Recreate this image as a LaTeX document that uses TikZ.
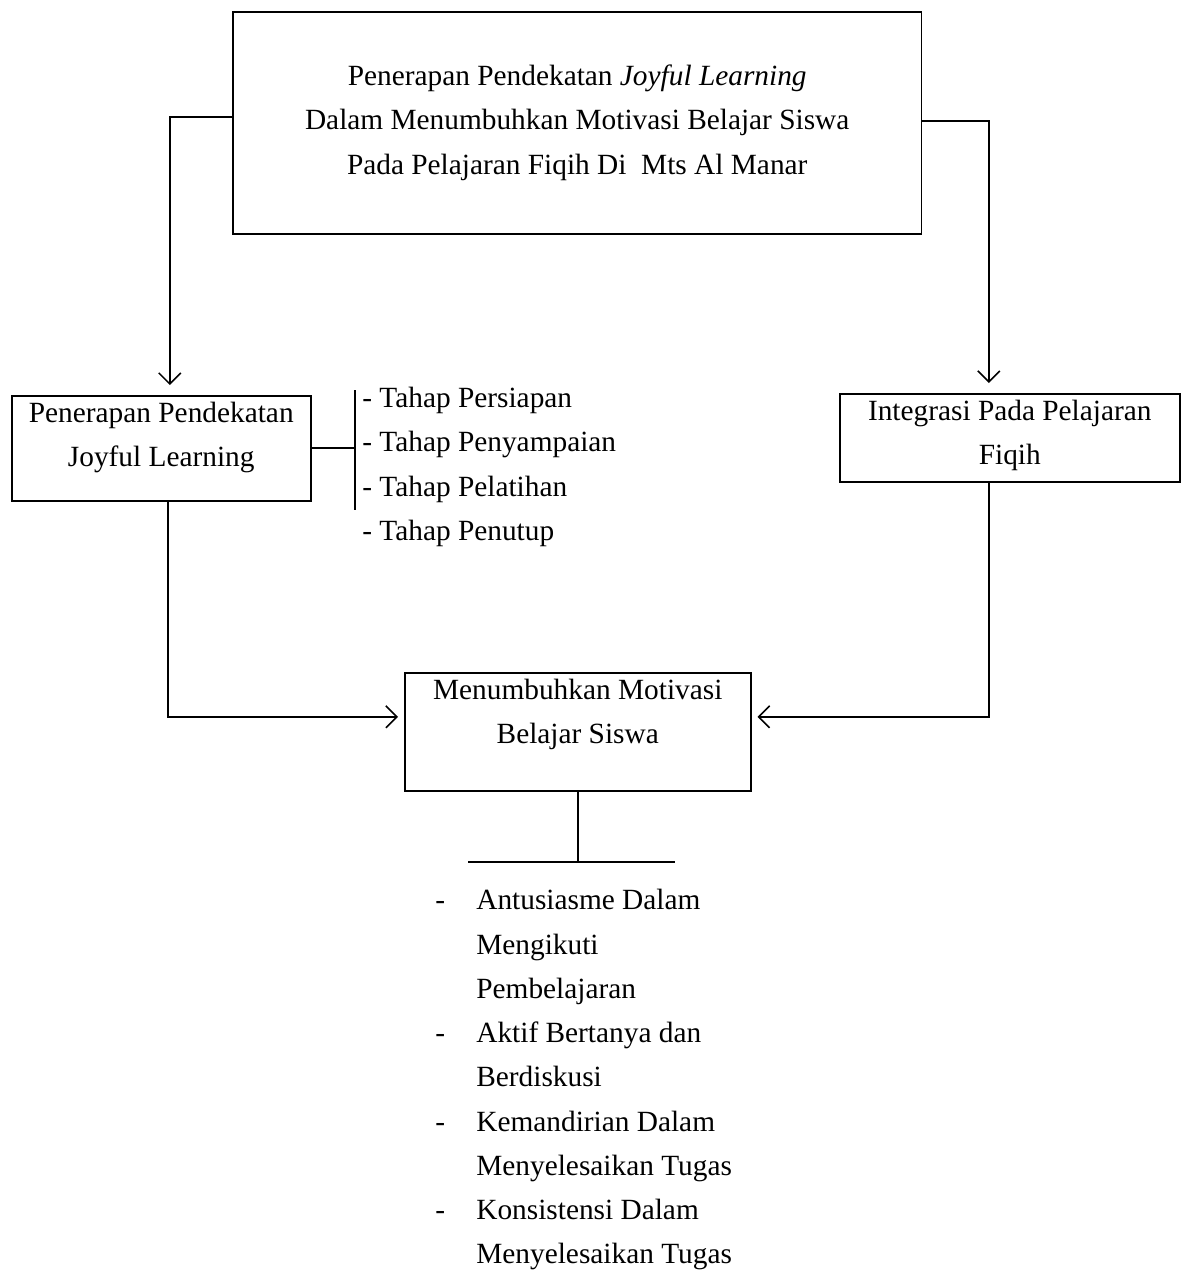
\documentclass[tikz,border=0pt]{standalone}
\usepackage{fontspec}
\setmainfont{Liberation Serif}
\usetikzlibrary{
  arrows.meta,
  calc,
  positioning
}
\newcommand{\itm}[1]{\makebox[0.82cm][l]{-}#1}
\newcommand{\cnt}[1]{\hspace*{0.82cm}#1}

\begin{document}
\begin{tikzpicture}[
  x=0.02cm, y=-0.02cm,
  txt/.style={inner sep=0pt, font=\fontsize{16.7}{25.2}\selectfont},
  box/.style={draw, line width=0.9pt, rectangle, txt, align=center},
  arr/.style={-{Straight Barb[length=2.2mm,width=4.4mm]}, line width=0.9pt},
  ln/.style={line width=0.9pt}
]
\useasboundingbox (0,0) rectangle (1182,1274);

% ── Row 1: Judul ──
\node[box, anchor=north west, minimum width=13.78cm, minimum height=4.44cm] at (232,11) (judul)
  {Penerapan Pendekatan \textit{Joyful Learning}\\
   Dalam Menumbuhkan Motivasi Belajar Siswa\\
   Pada Pelajaran Fiqih Di\ \ Mts Al Manar};

% ── Row 2: Pendekatan dan integrasi ──
\node[box, anchor=north west, minimum width=5.98cm, minimum height=2.1cm] at (11,395) (joyful) {};
\node[txt, align=center, below=1.4mm of joyful.north] (joyfultxt)
  {Penerapan Pendekatan\\Joyful Learning};

\node[box, anchor=north west, minimum width=6.8cm, minimum height=1.76cm] at (839,393) (integrasi) {};
\node[txt, align=center, below=1.4mm of integrasi.north] (integrasitxt)
  {Integrasi Pada Pelajaran\\Fiqih};

% ── Tahap ──
\node[txt, align=left, anchor=north west] at (362,387) (tahap)
  {- Tahap Persiapan\\- Tahap Penyampaian\\- Tahap Pelatihan\\- Tahap Penutup};
\coordinate (brtop) at (355,390);
\coordinate (brbot) at (355,510);
\draw[ln] (joyful.east) -- (joyful.east -| brtop);
\draw[ln] (brtop) -- (brbot);

% ── Row 3: Motivasi ──
\node[box, anchor=north west, minimum width=6.92cm, minimum height=2.36cm] at (404,672) (motivasi) {};
\node[txt, align=center, below=1.4mm of motivasi.north] (motivasitxt)
  {Menumbuhkan Motivasi\\Belajar Siswa};

% ── Indikator ──
\coordinate (barL) at (468,862);
\coordinate (barR) at (675,862);
\draw[ln] (motivasi.south) -- (motivasi.south |- barL);
\draw[ln] (barL) -- (barR);
\node[txt, align=left, anchor=north west] at (435,889) (indikator)
  {\itm{Antusiasme Dalam}\\\cnt{Mengikuti}\\\cnt{Pembelajaran}\\
   \itm{Aktif Bertanya dan}\\\cnt{Berdiskusi}\\
   \itm{Kemandirian Dalam}\\\cnt{Menyelesaikan Tugas}\\
   \itm{Konsistensi Dalam}\\\cnt{Menyelesaikan Tugas}};

% ── Panah ──
\draw[arr, shorten >=2mm] ([yshift=0.12cm]judul.west) -| ([xshift=0.17cm]joyful.north);
\draw[arr, shorten >=2mm] ([yshift=0.04cm]judul.east) -| ([xshift=-0.42cm]integrasi.north);
\draw[arr, shorten >=1.2mm] ([xshift=0.13cm]joyful.south) |- ([yshift=0.3cm]motivasi.west);
\draw[arr, shorten >=1.2mm] ([xshift=-0.42cm]integrasi.south) |- ([yshift=0.3cm]motivasi.east);

\end{tikzpicture}
\end{document}
